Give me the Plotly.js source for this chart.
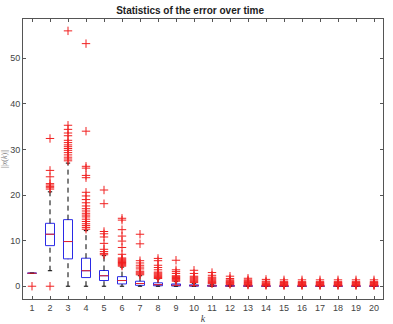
<!DOCTYPE html>
<html>
<head>
<meta charset="utf-8">
<script src="https://cdn.plot.ly/plotly-3.0.1.min.js"></script>
<style>
  html, body { margin: 0; padding: 0; background: #fff; }
  #chart { width: 393px; height: 324px; }
</style>
</head>
<body>
<div id="chart"></div>
<script>
// Time steps k
const steps = [1, 2, 3, 4, 5, 6, 7, 8, 9, 10, 11, 12, 13, 14, 15, 16, 17, 18, 19, 20];

// Box statistics of ||x(k)|| per time step
const q1Values     = [2.85, 8.9, 6.0, 1.9, 1.25, 0.5, 0.2, 0.1, 0.05, 0.02, 0.01, 0.01, 0.0, 0.0, 0.0, 0.0, 0.0, 0.0, 0.0, 0.0];
const medianValues = [2.85, 11.4, 9.8, 3.4, 2.3, 1.25, 0.6, 0.35, 0.2, 0.12, 0.08, 0.05, 0.03, 0.02, 0.02, 0.02, 0.02, 0.02, 0.02, 0.02];
const q3Values     = [2.85, 13.8, 14.6, 6.15, 3.45, 2.1, 1.1, 0.75, 0.5, 0.3, 0.2, 0.14, 0.09, 0.06, 0.05, 0.05, 0.05, 0.05, 0.05, 0.05];
const lowerWhisker = [2.85, 3.4, 0.0, 0.0, 0.0, 0.0, 0.0, 0.0, 0.0, 0.0, 0.0, 0.0, 0.0, 0.0, 0.0, 0.0, 0.0, 0.0, 0.0, 0.0];
const upperWhisker = [2.85, 20.7, 27.0, 12.2, 6.7, 4.2, 2.3, 1.6, 1.0, 0.65, 0.45, 0.3, 0.2, 0.14, 0.12, 0.12, 0.12, 0.12, 0.12, 0.12];

// Outliers per time step
const outlierValues = [
  [0.0],
  [0.0, 21.3, 21.6, 21.9, 22.2, 22.5, 24.0, 25.4, 32.4],
  [27.5, 27.9, 28.3, 28.8, 29.3, 29.8, 30.2, 30.6, 31.0, 31.5, 32.0, 33.0, 33.6, 34.4, 35.3, 56.0],
  [12.5, 12.9, 13.3, 13.7, 14.2, 14.7, 15.2, 15.6, 16.0, 16.5, 17.0, 17.6, 18.3, 19.0, 19.8, 20.6, 23.8, 24.3, 25.9, 26.3, 34.0, 53.2],
  [6.9, 7.2, 7.6, 8.1, 9.4, 10.8, 11.5, 12.0, 18.1, 21.1],
  [4.4, 4.6, 4.8, 5.0, 5.2, 5.4, 5.6, 5.8, 6.0, 6.2, 7.0, 8.5, 9.9, 11.0, 12.4, 14.5, 14.9],
  [2.5, 2.7, 2.9, 3.1, 3.3, 3.8, 4.2, 4.6, 5.1, 5.6, 9.3, 11.4],
  [1.7, 1.9, 2.1, 2.3, 2.5, 2.7, 2.9, 3.1, 3.6, 4.1, 4.6, 5.6, 6.1],
  [1.1, 1.3, 1.5, 1.7, 1.9, 2.1, 2.3, 2.8, 3.2, 3.6, 5.7],
  [0.8, 1.0, 1.2, 1.4, 1.6, 1.8, 2.0, 2.2, 2.8, 3.5],
  [0.55, 0.7, 0.85, 1.0, 1.2, 1.4, 1.6, 1.8, 2.0, 2.4, 3.0],
  [0.4, 0.55, 0.7, 0.85, 1.0, 1.2, 1.4, 1.7, 2.2],
  [0.25, 0.35, 0.5, 0.65, 0.8, 1.0, 1.2, 1.4, 1.75],
  [0.18, 0.28, 0.4, 0.55, 0.7, 0.9, 1.1, 1.5],
  [0.15, 0.25, 0.35, 0.5, 0.65, 0.8, 1.0, 1.4],
  [0.15, 0.25, 0.35, 0.5, 0.65, 0.8, 1.0, 1.4],
  [0.15, 0.25, 0.35, 0.5, 0.65, 0.8, 1.0, 1.4],
  [0.15, 0.25, 0.35, 0.5, 0.65, 0.8, 1.0, 1.4],
  [0.15, 0.25, 0.35, 0.5, 0.65, 0.8, 1.0, 1.4],
  [0.15, 0.25, 0.35, 0.5, 0.65, 0.8, 1.0, 1.4]
];

const yTicks = [0, 10, 20, 30, 40, 50];

const BOX_HALF = 0.25;
const CAP_HALF = 0.12;

// Whisker stems (dashed) and caps (solid), built as segment lists
const stemX = [], stemY = [], capX = [], capY = [], medX = [], medY = [];
steps.forEach((k, i) => {
  if (upperWhisker[i] > q3Values[i]) {
    stemX.push(k, k, null); stemY.push(q3Values[i], upperWhisker[i], null);
  }
  if (lowerWhisker[i] < q1Values[i]) {
    stemX.push(k, k, null); stemY.push(lowerWhisker[i], q1Values[i], null);
  }
  capX.push(k - CAP_HALF, k + CAP_HALF, null, k - CAP_HALF, k + CAP_HALF, null);
  capY.push(upperWhisker[i], upperWhisker[i], null, lowerWhisker[i], lowerWhisker[i], null);
  medX.push(k - BOX_HALF, k + BOX_HALF, null);
  medY.push(medianValues[i], medianValues[i], null);
});

const outX = [], outY = [];
outlierValues.forEach((vals, i) => {
  vals.forEach(v => { outX.push(steps[i]); outY.push(v); });
});

const traces = [
  {
    type: 'scatter', mode: 'lines', x: stemX, y: stemY,
    line: { color: '#000', width: 1, dash: '5px,4px' }, hoverinfo: 'skip'
  },
  {
    type: 'scatter', mode: 'lines', x: capX, y: capY,
    line: { color: '#000', width: 1 }, hoverinfo: 'skip'
  },
  {
    type: 'box', x: steps, q1: q1Values, median: medianValues, q3: q3Values,
    lowerfence: q1Values, upperfence: q3Values,
    width: 2 * BOX_HALF, whiskerwidth: 0, boxpoints: false,
    line: { color: '#2a2ae6', width: 1 }, fillcolor: 'rgba(0,0,0,0)'
  },
  {
    type: 'scatter', mode: 'lines', x: medX, y: medY,
    line: { color: '#e8252a', width: 1 }, hoverinfo: 'skip'
  },
  {
    type: 'scatter', mode: 'markers', x: outX, y: outY,
    marker: { symbol: 'cross-thin-open', size: 6, color: '#f02020', line: { color: '#f02020', width: 1 } }
  }
];

const axisColor = '#555';
const layout = {
  width: 393, height: 324,
  margin: { l: 23, r: 10, t: 19, b: 25 },
  paper_bgcolor: '#fff', plot_bgcolor: '#fff',
  showlegend: false,
  font: { family: 'Liberation Sans, Arial, sans-serif', size: 9, color: '#444' },
  title: {
    text: '<b>Statistics of the error over time</b>',
    font: { family: 'Liberation Sans, Arial, sans-serif', size: 10, color: '#222' },
    x: 0.464, xanchor: 'center', xref: 'paper', y: 0.967, yanchor: 'middle'
  },
  xaxis: {
    range: [0.5, 20.5], tickvals: steps, ticktext: steps.map(String),
    ticks: 'inside', ticklen: 3, tickcolor: axisColor, tickwidth: 1,
    showline: true, linecolor: axisColor, linewidth: 1, mirror: 'ticks',
    showgrid: false, zeroline: false,
    tickfont: { size: 9, color: '#444' },
    title: { text: '<i>k</i>', standoff: 3,
             font: { family: 'Liberation Serif, Times New Roman, serif', size: 10, color: '#444' } }
  },
  yaxis: {
    range: [-2.8, 58.6], tickvals: yTicks,
    ticks: 'inside', ticklen: 3, tickcolor: axisColor, tickwidth: 1,
    showline: true, linecolor: axisColor, linewidth: 1, mirror: 'ticks',
    showgrid: false, zeroline: false,
    tickfont: { size: 9, color: '#444' },
    title: { text: '||<i>x</i>(<i>k</i>)||', standoff: 4,
             font: { family: 'Liberation Serif, Times New Roman, serif', size: 8, color: '#777' } }
  }
};

Plotly.newPlot('chart', traces, layout, { displayModeBar: false, staticPlot: true });
</script>
</body>
</html>
